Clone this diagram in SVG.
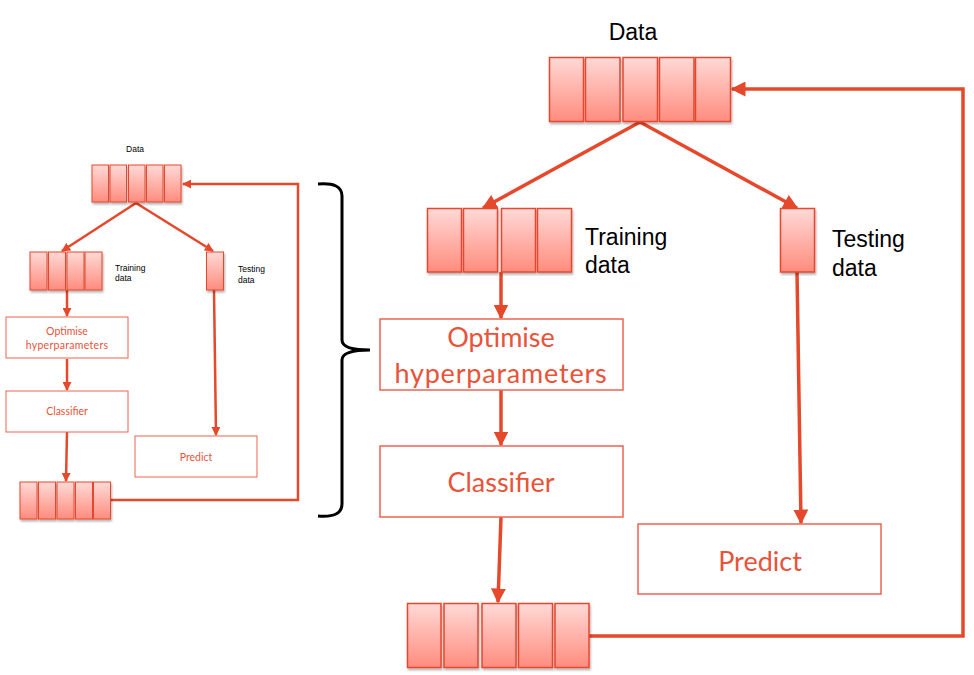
<svg xmlns="http://www.w3.org/2000/svg" width="974" height="675" viewBox="0 0 974 675">
<defs>
<linearGradient id="cellGrad" x1="0" y1="0" x2="0" y2="1">
<stop offset="0" stop-color="#ffd9d6"/>
<stop offset="1" stop-color="#ff8c7e"/>
</linearGradient>
<filter id="sh" x="-20%" y="-20%" width="140%" height="140%">
<feDropShadow dx="1" dy="2" stdDeviation="1.2" flood-color="#000" flood-opacity="0.3"/>
</filter>
<marker id="ahL" viewBox="0 0 10 10" refX="9" refY="5" markerWidth="15" markerHeight="15" markerUnits="userSpaceOnUse" orient="auto">
<path d="M0,0 L10,5 L0,10 z" fill="#e5482a"/>
</marker>
<marker id="ahS" viewBox="0 0 10 10" refX="9" refY="5" markerWidth="9" markerHeight="9" markerUnits="userSpaceOnUse" orient="auto">
<path d="M0,0 L10,5 L0,10 z" fill="#e5482a"/>
</marker>
</defs>
<style>
.cell{fill:url(#cellGrad);stroke:#e8472d;stroke-width:1.5;filter:url(#sh)}
.cellS{fill:url(#cellGrad);stroke:#e8472d;stroke-width:1;filter:url(#sh)}
.box{fill:#fff;stroke:#ee6450;stroke-width:1.5}
.boxS{fill:#fff;stroke:#ee6450;stroke-width:1}
.conL{fill:none;stroke:#e5482a;stroke-width:3.5;marker-end:url(#ahL)}
.conS{fill:none;stroke:#e5482a;stroke-width:2.5;marker-end:url(#ahS)}
.lblL{font-family:"Liberation Sans",Arial,sans-serif;font-size:23px;fill:#000}
.lblS{font-family:"Liberation Sans",Arial,sans-serif;font-size:8.5px;fill:#000}
.bt{font-family:Lato,"Open Sans",sans-serif;fill:#e8533a;text-anchor:middle}
</style>
<rect width="974" height="675" fill="#fff"/>

<!-- connectors -->
<g id="connectors">
<!-- small diagram -->
<path class="conS" d="M136,203 L62,251"/>
<path class="conS" d="M136,203 L213,251"/>
<path class="conS" d="M67,290 L67,316"/>
<path class="conS" d="M67,359 L67,390"/>
<path class="conS" d="M67,432 L66,481"/>
<path class="conS" d="M214,290 L216,435"/>
<path class="conS" d="M111,500 L298,500 L298,184 L183,184"/>
<!-- large diagram -->
<path class="conL" d="M640,122 L483,208"/>
<path class="conL" d="M640,122 L797,208"/>
<path class="conL" d="M501,272 L501,318"/>
<path class="conL" d="M501,390 L501,445"/>
<path class="conL" d="M501,517 L498,602"/>
<path class="conL" d="M797,272 L801,523"/>
<path class="conL" d="M589,636 L963,636 L963,89 L732,89"/>
</g>

<!-- small diagram nodes -->
<g id="s-data">
<text class="lblS" x="135" y="152" text-anchor="middle">Data</text>
<rect class="cellS" x="92" y="165" width="16.5" height="37"/>
<rect class="cellS" x="110" y="165" width="16.5" height="37"/>
<rect class="cellS" x="128.5" y="165" width="16.5" height="37"/>
<rect class="cellS" x="146.5" y="165" width="16.5" height="37"/>
<rect class="cellS" x="164.5" y="165" width="16.5" height="37"/>
</g>
<g id="s-training">
<rect class="cellS" x="30" y="252" width="17" height="38"/>
<rect class="cellS" x="48.5" y="252" width="17" height="38"/>
<rect class="cellS" x="67" y="252" width="17" height="38"/>
<rect class="cellS" x="85" y="252" width="17" height="38"/>
<text class="lblS" x="115" y="271">Training</text>
<text class="lblS" x="115" y="281">data</text>
</g>
<g id="s-testing">
<rect class="cellS" x="206.5" y="252" width="17" height="38"/>
<text class="lblS" x="238" y="272">Testing</text>
<text class="lblS" x="238" y="283">data</text>
</g>
<g id="s-optimise">
<rect class="boxS" x="6" y="317" width="122" height="41"/>
<text class="bt" x="67" y="335" font-size="10.5">Optimise</text>
<text class="bt" x="67" y="349" font-size="10.5" letter-spacing="0.3">hyperparameters</text>
</g>
<g id="s-classifier">
<rect class="boxS" x="6" y="391" width="122" height="41"/>
<text class="bt" x="67" y="415" font-size="10.5">Classifier</text>
</g>
<g id="s-predict">
<rect class="boxS" x="135" y="436" width="122" height="41"/>
<text class="bt" x="196" y="461" font-size="10.5">Predict</text>
</g>
<g id="s-result">
<rect class="cellS" x="20" y="482" width="17" height="37"/>
<rect class="cellS" x="38.5" y="482" width="17" height="37"/>
<rect class="cellS" x="57" y="482" width="17" height="37"/>
<rect class="cellS" x="75.5" y="482" width="17" height="37"/>
<rect class="cellS" x="93.5" y="482" width="17" height="37"/>
</g>

<!-- brace -->
<g id="brace">
<path d="M318,184 Q342,182 342,196 L342,340 Q342,350 370,350 Q342,350 342,360 L342,504 Q342,518 318,516" fill="none" stroke="#000" stroke-width="3"/>
</g>

<!-- large diagram nodes -->
<g id="data">
<text class="lblL" x="633" y="40" text-anchor="middle">Data</text>
<rect class="cell" x="549.5" y="57.5" width="34" height="64"/>
<rect class="cell" x="585.5" y="57.5" width="34.5" height="64"/>
<rect class="cell" x="623" y="57.5" width="34.5" height="64"/>
<rect class="cell" x="659.5" y="57.5" width="34.5" height="64"/>
<rect class="cell" x="695.5" y="57.5" width="35" height="64"/>
</g>
<g id="training">
<rect class="cell" x="427.5" y="208.5" width="34" height="63.5"/>
<rect class="cell" x="463.5" y="208.5" width="34" height="63.5"/>
<rect class="cell" x="501.5" y="208.5" width="34" height="63.5"/>
<rect class="cell" x="537.5" y="208.5" width="34" height="63.5"/>
<text class="lblL" x="585" y="245">Training</text>
<text class="lblL" x="585" y="273">data</text>
</g>
<g id="testing">
<rect class="cell" x="780.5" y="208.5" width="34" height="63.5"/>
<text class="lblL" x="832" y="247">Testing</text>
<text class="lblL" x="832" y="276">data</text>
</g>
<g id="optimise">
<rect class="box" x="380" y="319" width="243" height="71"/>
<text class="bt" x="501" y="347" font-size="27">Optimise</text>
<text class="bt" x="501" y="383" font-size="27" letter-spacing="0.8">hyperparameters</text>
</g>
<g id="classifier">
<rect class="box" x="380" y="446" width="243" height="71"/>
<text class="bt" x="501" y="492" font-size="27">Classifier</text>
</g>
<g id="predict">
<rect class="box" x="638" y="524" width="243" height="70"/>
<text class="bt" x="760" y="571" font-size="27">Predict</text>
</g>
<g id="result">
<rect class="cell" x="407.5" y="603.5" width="33.5" height="64"/>
<rect class="cell" x="444" y="603.5" width="34" height="64"/>
<rect class="cell" x="482" y="603.5" width="34" height="64"/>
<rect class="cell" x="518.5" y="603.5" width="34" height="64"/>
<rect class="cell" x="555" y="603.5" width="34" height="64"/>
</g>
</svg>
